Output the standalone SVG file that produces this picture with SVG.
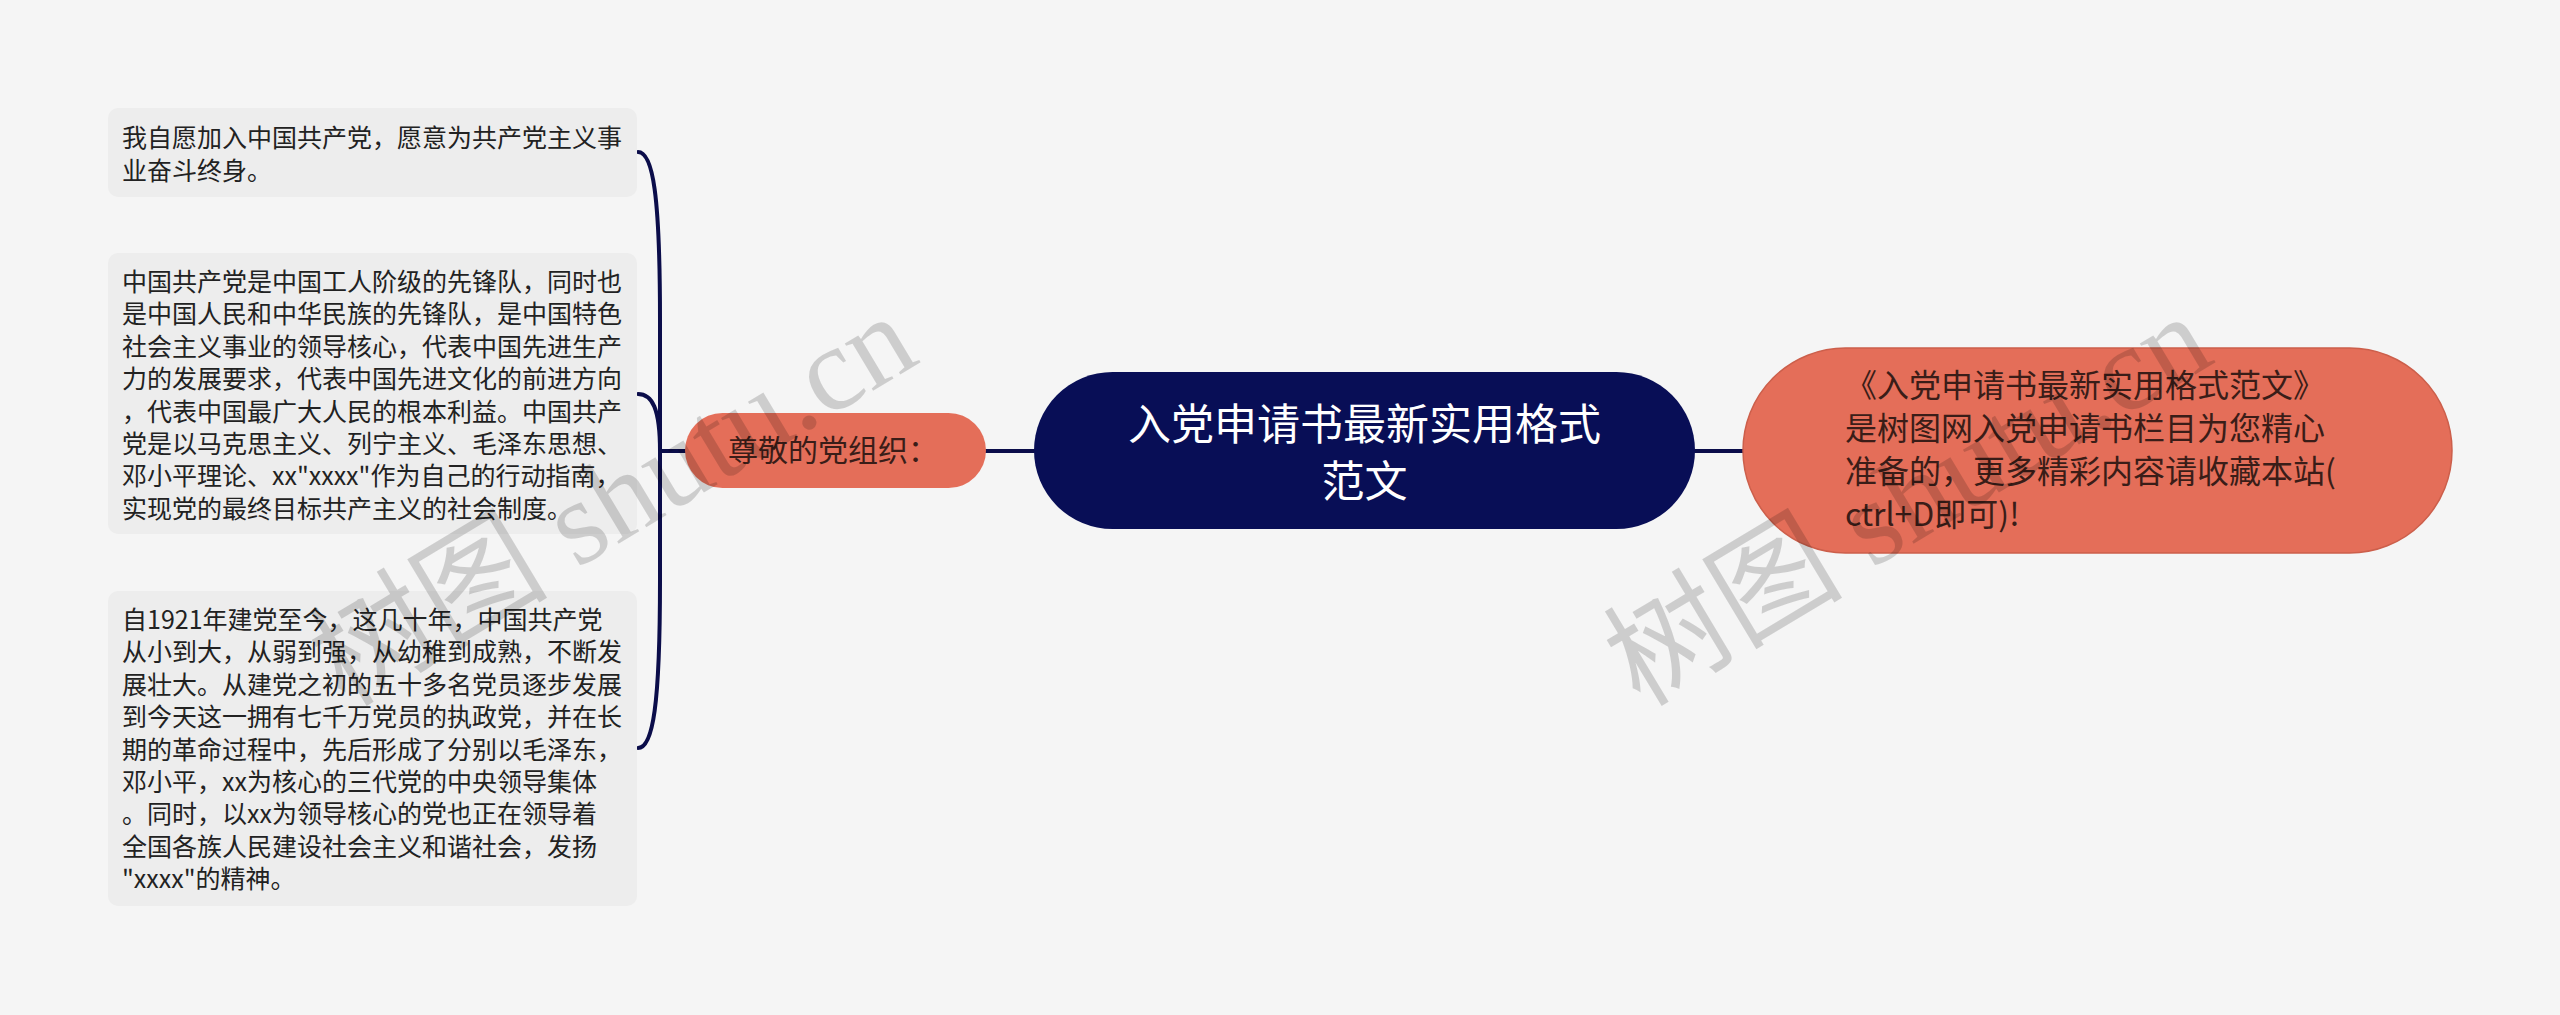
<svg xmlns="http://www.w3.org/2000/svg" width="2560" height="1015" viewBox="0 0 2560 1015">
<style>
.leaf{fill:#EDEDED;}
.lt{font-family:"Noto Sans CJK SC","Noto Sans",sans-serif;font-size:25px;fill:#222222;}
.orange{fill:#E46E59;}
.ot{font-family:"Noto Sans CJK SC","Noto Sans",sans-serif;fill:#3A1D18;}
.ct{font-family:"Noto Sans CJK SC","Noto Sans",sans-serif;font-size:43px;fill:#FFFFFF;text-anchor:middle;}
.conn{fill:none;stroke:#0B0D4A;stroke-width:4;stroke-linecap:round;}
.wm{font-family:"Liberation Serif","Noto Sans CJK SC",serif;font-size:120px;fill:#000000;fill-opacity:0.16;}
</style>
<rect x="0" y="0" width="2560" height="1015" fill="#F5F5F5"/>
<g id="connectors">
<path class="conn" d="M 1695 451 L 1743 451"/>
<path class="conn" d="M 986 451 L 1034 451"/>
<path class="conn" d="M 685 451 L 660 451"/>
<path class="conn" d="M 638 152 C 653 152, 660 195, 660 320 L 660 451"/>
<path class="conn" d="M 638 394 C 652 394, 660 408, 660 451"/>
<path class="conn" d="M 638 748 C 653 748, 660 705, 660 580 L 660 451"/>
</g>
<g id="node-root">
<rect x="1034" y="372" width="661" height="157" rx="78.5" fill="#080E56"/>
<text class="ct"><tspan x="1364.5" y="440">入党申请书最新实用格式</tspan><tspan x="1364.5" y="497">范文</tspan></text>
</g>
<g id="node-summary">
<rect class="orange" x="1743" y="348" width="709" height="205" rx="102.5" stroke="#CC5F4B" stroke-width="1.5"/>
<text class="ot" font-size="32"><tspan x="1845" y="397">《入党申请书最新实用格式范文》</tspan><tspan x="1845" y="440">是树图网入党申请书栏目为您精心</tspan><tspan x="1845" y="483">准备的，更多精彩内容请收藏本站(</tspan><tspan x="1845" y="526">ctrl+D即可)!</tspan></text>
</g>
<g id="node-greeting">
<rect class="orange" x="685" y="413" width="301" height="75" rx="37.5"/>
<text class="ot" font-size="30" text-anchor="middle" x="833" y="461">尊敬的党组织：</text>
</g>
<g id="leaf-1">
<rect class="leaf" x="108" y="108" width="529" height="89" rx="10"/>
<text class="lt"><tspan x="122" y="147">我自愿加入中国共产党，愿意为共产党主义事</tspan><tspan x="122" y="180">业奋斗终身。</tspan></text>
</g>
<g id="leaf-2">
<rect class="leaf" x="108" y="253" width="529" height="281" rx="10"/>
<text class="lt"><tspan x="122" y="291">中国共产党是中国工人阶级的先锋队，同时也</tspan><tspan x="122" y="323.4">是中国人民和中华民族的先锋队，是中国特色</tspan><tspan x="122" y="355.8">社会主义事业的领导核心，代表中国先进生产</tspan><tspan x="122" y="388.2">力的发展要求，代表中国先进文化的前进方向</tspan><tspan x="122" y="420.6">，代表中国最广大人民的根本利益。中国共产</tspan><tspan x="122" y="453">党是以马克思主义、列宁主义、毛泽东思想、</tspan><tspan x="122" y="485.4">邓小平理论、xx"xxxx"作为自己的行动指南，</tspan><tspan x="122" y="517.8">实现党的最终目标共产主义的社会制度。</tspan></text>
</g>
<g id="leaf-3">
<rect class="leaf" x="108" y="591" width="529" height="315" rx="10"/>
<text class="lt"><tspan x="122" y="629">自1921年建党至今，这几十年，中国共产党</tspan><tspan x="122" y="661.4">从小到大，从弱到强，从幼稚到成熟，不断发</tspan><tspan x="122" y="693.8">展壮大。从建党之初的五十多名党员逐步发展</tspan><tspan x="122" y="726.2">到今天这一拥有七千万党员的执政党，并在长</tspan><tspan x="122" y="758.6">期的革命过程中，先后形成了分别以毛泽东，</tspan><tspan x="122" y="791">邓小平，xx为核心的三代党的中央领导集体</tspan><tspan x="122" y="823.4">。同时，以xx为领导核心的党也正在领导着</tspan><tspan x="122" y="855.8">全国各族人民建设社会主义和谐社会，发扬</tspan><tspan x="122" y="888.2">"xxxx"的精神。</tspan></text>
</g>
<g id="watermarks">
<text class="wm" transform="translate(345 708) rotate(-31)">树图 shutu.cn</text>
<text class="wm" transform="translate(1640 708) rotate(-31)">树图 shutu.cn</text>
</g>
</svg>
